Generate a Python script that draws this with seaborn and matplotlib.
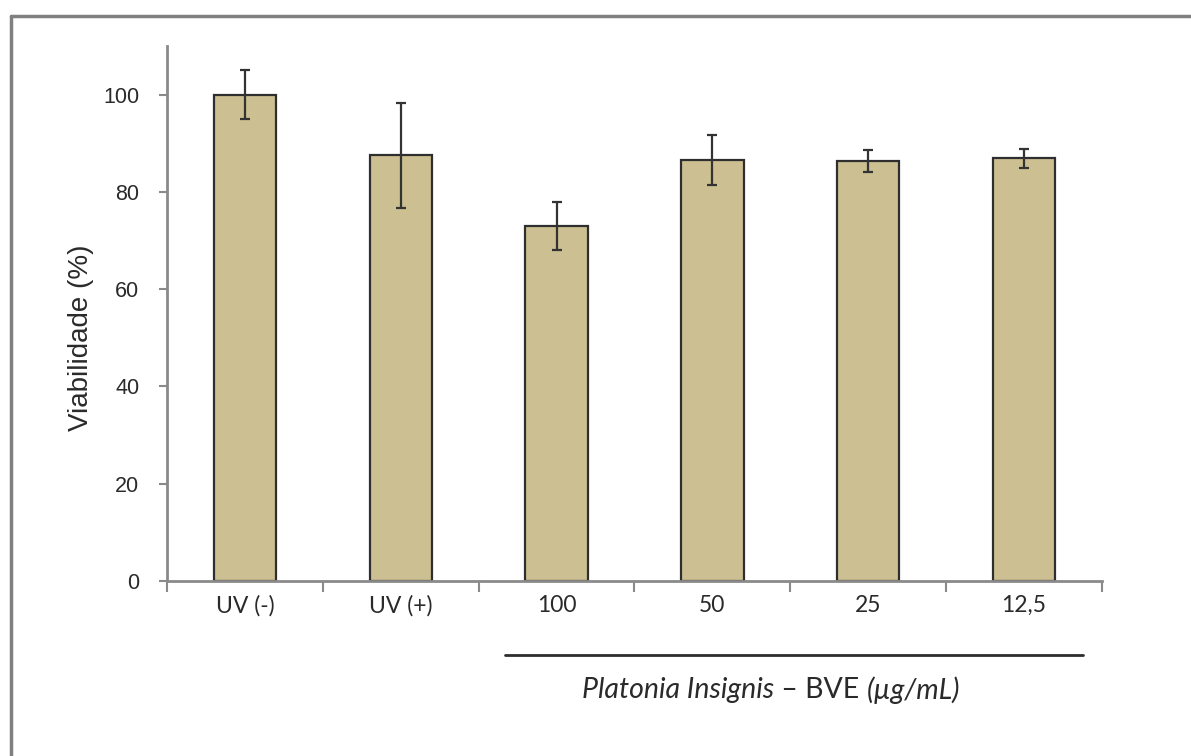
import matplotlib
matplotlib.use("Agg")
import matplotlib.pyplot as plt
from matplotlib.lines import Line2D
import seaborn as sns
import pandas as pd

# Cell viability per treatment (mean and standard deviation, %)
categories = ["UV (-)", "UV (+)", "100", "50", "25", "12,5"]
viability = [100.0, 87.5, 73.0, 86.6, 86.4, 86.9]
std_dev = [5.0, 10.8, 5.0, 5.2, 2.3, 2.0]
y_ticks = [0, 20, 40, 60, 80, 100]

df = pd.DataFrame({"grupo": categories, "viabilidade": viability, "dp": std_dev})

sns.set_theme(style="white")
plt.rcParams["font.family"] = ["Liberation Sans", "DejaVu Sans"]
label_font = ["Lato", "DejaVu Sans"]
text_color = "#2a2a2a"

W, H = 1191, 756
fig = plt.figure(figsize=(W / 100, H / 100), dpi=100)
ax = fig.add_axes([167 / W, 1 - 581 / H, (1102 - 167) / W, (581 - 46) / H])

bar_fill = "#ccbf91"
sns.barplot(data=df, x="grupo", y="viabilidade", order=categories,
            color=bar_fill, saturation=1, width=0.4, errorbar=None,
            edgecolor="#2e2e2e", linewidth=1.6, ax=ax)

ax.errorbar(range(len(categories)), df["viabilidade"], yerr=df["dp"],
            fmt="none", ecolor="#333333", elinewidth=1.6, capsize=3.8,
            capthick=1.6, zorder=5)

ax.set_ylim(0, 110)
ax.set_xlim(-0.5, len(categories) - 0.5)
ax.set_yticks(y_ticks)
ax.set_yticklabels([str(t) for t in y_ticks], fontsize=15.5, color=text_color)

# Category labels centred, tick marks on the category boundaries
ax.set_xticks(range(len(categories)))
ax.set_xticklabels(categories, fontsize=16.5, family=label_font, color=text_color)
ax.set_xticks([i - 0.5 for i in range(len(categories) + 1)], minor=True)
ax.tick_params(axis="x", which="major", length=0, pad=10)
ax.tick_params(axis="x", which="minor", length=8, width=1.5,
               color="#8a8a8a", direction="out", bottom=True)
ax.tick_params(axis="y", which="major", length=6, width=1.5,
               color="#8a8a8a", direction="out", left=True, pad=14)

for side in ("top", "right"):
    ax.spines[side].set_visible(False)
for side in ("left", "bottom"):
    ax.spines[side].set_color("#8a8a8a")
    ax.spines[side].set_linewidth(2)

ax.set_xlabel("")
ax.set_ylabel("Viabilidade (%)", fontsize=20, color=text_color)
ax.yaxis.set_label_coords(-0.078, 0.455)

# Bracket line grouping the extract concentrations
fig.add_artist(Line2D([505 / W, 1083 / W], [1 - 655 / H, 1 - 655 / H],
                      color="#2e2e2e", linewidth=2))

# Group caption: italic species name, plain extract code, italic unit
parts = [("Platonia Insignis", "italic"), (" – BVE ", "normal"), ("(µg/mL)", "italic")]
renderer = fig.canvas.get_renderer()
pieces = []
for txt, style in parts:
    t = fig.text(0, 1 - 690 / H, txt, ha="left", va="center", fontsize=20.5,
                 style=style, color=text_color, family=label_font)
    pieces.append(t)
total = sum(t.get_window_extent(renderer).width for t in pieces)
x_px = 771 - total / 2
for t in pieces:
    t.set_x(x_px / W)
    x_px += t.get_window_extent(renderer).width

# Chart frame
frame_kw = dict(color="#808080", linewidth=2.5)
fig.add_artist(Line2D([11 / W, 1.0], [1 - 16 / H, 1 - 16 / H], **frame_kw))
fig.add_artist(Line2D([11 / W, 11 / W], [0.0, 1 - 16 / H], **frame_kw))

fig.savefig("out.png", dpi=100, facecolor="white")
